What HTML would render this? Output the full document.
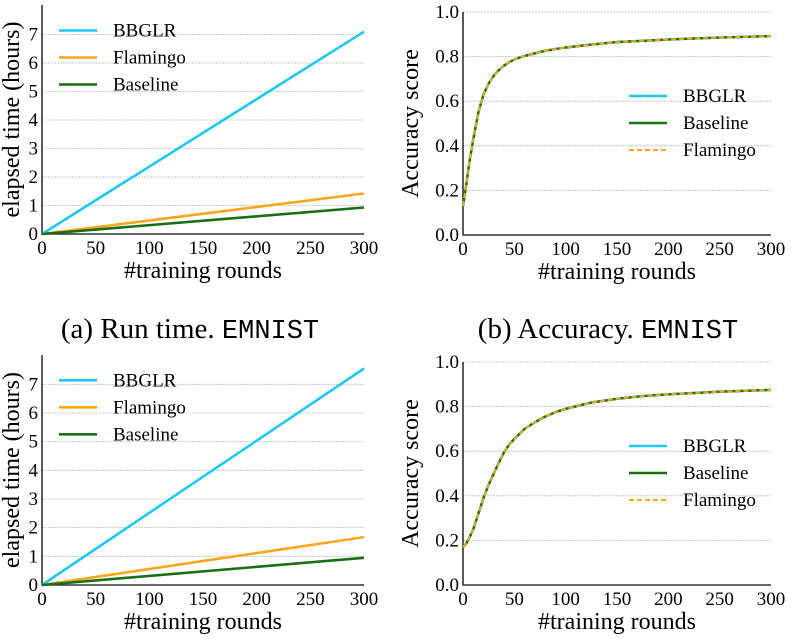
<!DOCTYPE html>
<html><head><meta charset="utf-8"><style>
body{margin:0;background:#fff;}
svg{display:block;font-family:"Liberation Serif",serif;}
</style></head><body>
<svg id="c" width="800" height="639" xmlns="http://www.w3.org/2000/svg">
<text x="190" y="338" font-size="29" text-anchor="middle">(a) Run time. <tspan font-family="Liberation Mono, monospace" font-size="27">EMNIST</tspan></text>
<text x="608" y="338" font-size="29" text-anchor="middle">(b) Accuracy. <tspan font-family="Liberation Mono, monospace" font-size="27">EMNIST</tspan></text>
</svg>
<script>
const rounds = [0, 300];
const timeTopBBGLR = [0, 7.1];
const timeTopFlamingo = [0, 1.42];
const timeTopBaseline = [0, 0.93];
const timeBotBBGLR = [0, 7.55];
const timeBotFlamingo = [0, 1.67];
const timeBotBaseline = [0, 0.95];
const accRounds = [0, 3, 6, 10, 15, 20, 25, 30, 35, 40, 45, 50, 60, 70, 80, 90, 100, 125, 150, 175, 200, 250, 300];
const accTop = [0.13, 0.22, 0.32, 0.43, 0.55, 0.63, 0.68, 0.715, 0.74, 0.76, 0.775, 0.787, 0.803, 0.815, 0.826, 0.834, 0.841, 0.854, 0.865, 0.871, 0.877, 0.885, 0.892];
const accBot = [0.17, 0.185, 0.21, 0.25, 0.32, 0.39, 0.45, 0.5, 0.55, 0.595, 0.63, 0.655, 0.7, 0.73, 0.755, 0.775, 0.79, 0.818, 0.835, 0.847, 0.855, 0.867, 0.875];
const xTicks = [0, 50, 100, 150, 200, 250, 300];
const timeTicks = [0, 1, 2, 3, 4, 5, 6, 7];
const accTicks = [0, 0.2, 0.4, 0.6, 0.8, 1.0];

const svg = document.getElementById('c');
const NS = 'http://www.w3.org/2000/svg';
function mk(tag, attrs, parent) {
  const e = document.createElementNS(NS, tag);
  for (const k in attrs) e.setAttribute(k, attrs[k]);
  (parent || svg).appendChild(e);
  return e;
}
const BLUE = '#1ec8f5', ORANGE = '#ffa51c', GREEN = '#1a6e14';

function panel(p) {
  const g = mk('g', {});
  
  
  const sx = v => p.x0 + v / 300 * (p.x1 - p.x0);
  const sy = v => p.y0 - (v - p.ymin) / (p.ymax - p.ymin) * (p.y0 - p.y1);
  p.yticks.forEach(t => {
    const y = sy(t);
    if (t !== p.ymin) {
      const gl = mk('line', {x1: p.x0, x2: p.x1, y1: y, y2: y, stroke: '#bbb', 'stroke-width': 0.8, 'stroke-dasharray': '2,1'}, g);
      
      
    }
    const tl = mk('text', {x: p.x0 - 4, y: y + 6, 'font-size': 19, 'text-anchor': 'end'}, g);
    tl.textContent = p.fmt(t);
    
    
  });
  xTicks.forEach(t => {
    const tl = mk('text', {x: sx(t), y: p.y0 + 20, 'font-size': 19, 'text-anchor': 'middle'}, g);
    tl.textContent = t;
    
    
  });
  const ax = mk('path', {d: `M${p.x0},${p.axTop} V${p.y0} H${p.x1}`, fill: 'none', stroke: '#333', 'stroke-width': 1.6}, g);
  
  
  const xt = mk('text', {x: (p.x0 + p.x1) / 2, y: p.y0 + 44, 'font-size': 24, 'text-anchor': 'middle'}, g);
  xt.textContent = '#training rounds';
  
  
  const cy = (p.y0 + p.axTop) / 2;
  const yt = mk('text', {x: p.ytx, y: cy, 'font-size': 24, 'text-anchor': 'middle', transform: `rotate(-90 ${p.ytx} ${cy})`}, g);
  yt.textContent = p.ytitle;
  
  
  p.series.forEach(s => {
    const d = s.xs.map((x, i) => (i ? 'L' : 'M') + sx(x).toFixed(1) + ',' + sy(s.ys[i]).toFixed(1)).join(' ');
    const a = {d: d, fill: 'none', stroke: s.color, 'stroke-width': s.w, 'stroke-linejoin': 'round'};
    if (s.dash) a['stroke-dasharray'] = s.dash;
    const l = mk('path', a, g);
    
    
  });
  p.legend.forEach((s, i) => {
    const y = p.ly + i * 27;
    const ll = mk('line', {x1: p.lx, x2: p.lx + 38, y1: y, y2: y, stroke: s.color, 'stroke-width': s.w}, g);
    if (s.dash) ll.setAttribute('stroke-dasharray', s.dash);
    
    
    const lt = mk('text', {x: p.lx + 54, y: y + 6, 'font-size': 19}, g);
    lt.textContent = s.label;
    
    
  });
}
const intFmt = t => String(t), accFmt = t => t.toFixed(1);
const tb = {key: 'bbglr', label: 'BBGLR', color: BLUE, w: 2.6};
const tf = {key: 'flamingo', label: 'Flamingo', color: ORANGE, w: 2.6};
const tbl = {key: 'baseline', label: 'Baseline', color: GREEN, w: 2.6};
function timePanel(name, y0, y7, axTop, b, f, bl) {
  panel({name, x0: 42, x1: 364, y0, y1: y7, ymin: 0, ymax: 7, axTop, yticks: timeTicks, fmt: intFmt,
    ytx: 19, ytitle: 'elapsed time (hours)', lx: 59, ly: y7 - 4,
    series: [Object.assign({}, tb, {xs: rounds, ys: b}), Object.assign({}, tf, {xs: rounds, ys: f}), Object.assign({}, tbl, {xs: rounds, ys: bl})],
    legend: [tb, tf, tbl]});
}
timePanel('runtime-chart-top', 234, 34.5, 5, timeTopBBGLR, timeTopFlamingo, timeTopBaseline);
timePanel('runtime-chart-bottom', 585, 384.3, 355, timeBotBBGLR, timeBotFlamingo, timeBotBaseline);
const ab = {key: 'bbglr', label: 'BBGLR', color: BLUE, w: 2.4};
const abl = {key: 'baseline', label: 'Baseline', color: GREEN, w: 2.4};
const af = {key: 'flamingo', label: 'Flamingo', color: ORANGE, w: 2, dash: '5,3'};
function accPanel(name, y0, y1, ys) {
  panel({name, x0: 463, x1: 771, y0, y1, ymin: 0, ymax: 1, axTop: y1, yticks: accTicks, fmt: accFmt,
    ytx: 418, ytitle: 'Accuracy score', lx: 629, ly: y1 + 84,
    series: [Object.assign({}, ab, {xs: accRounds, ys}), Object.assign({}, abl, {xs: accRounds, ys}), Object.assign({}, af, {xs: accRounds, ys})],
    legend: [ab, abl, af]});
}
accPanel('accuracy-chart-top', 235, 12, accTop);
accPanel('accuracy-chart-bottom', 585, 362, accBot);
</script>
</body></html>
